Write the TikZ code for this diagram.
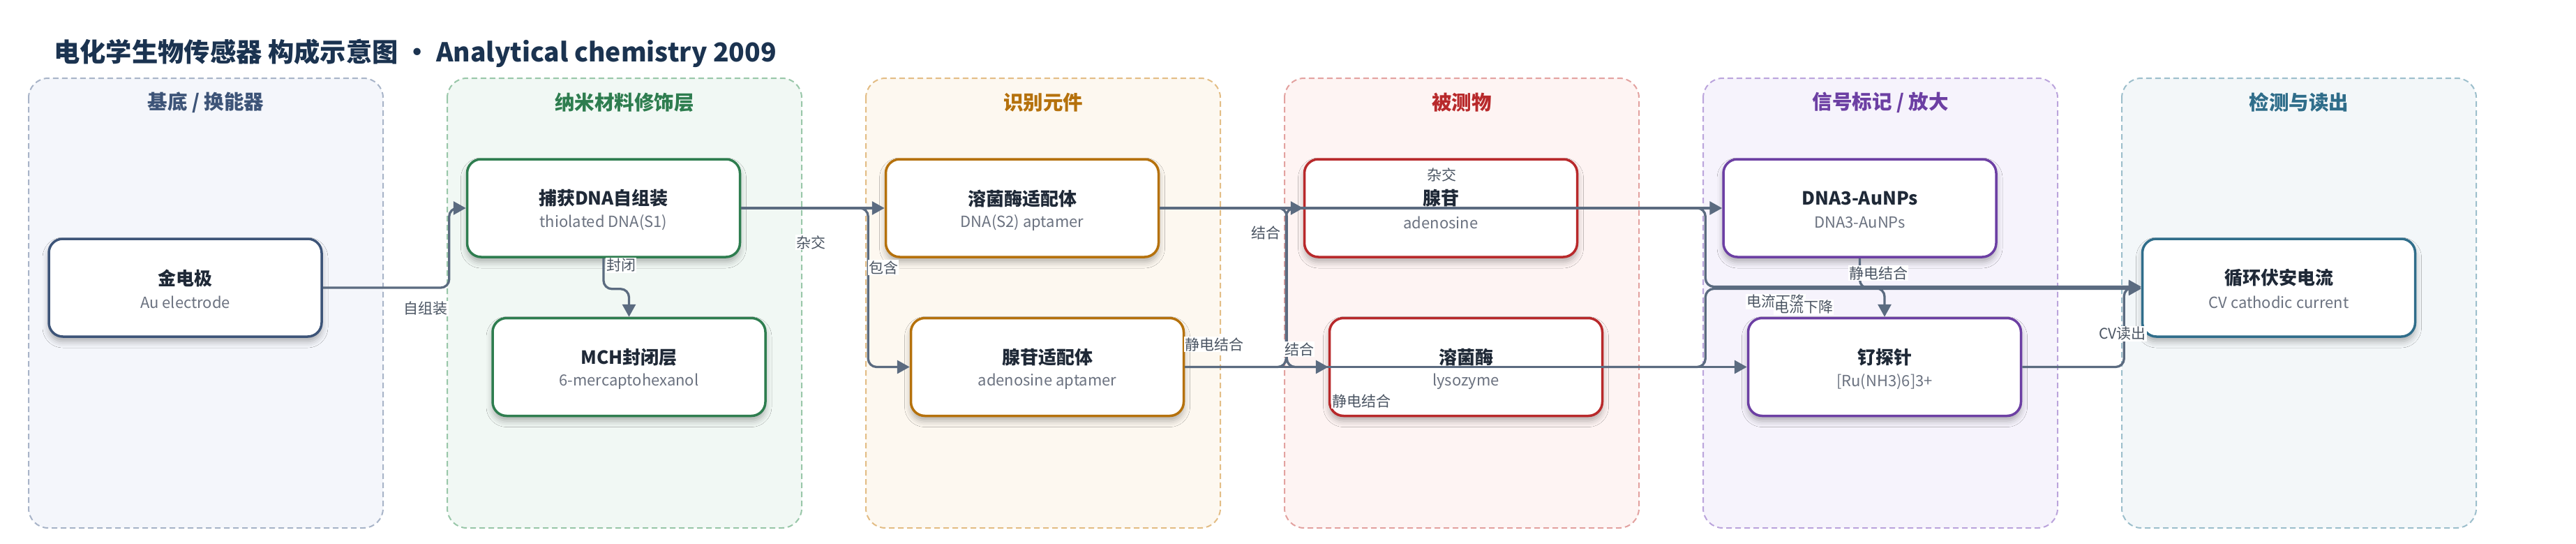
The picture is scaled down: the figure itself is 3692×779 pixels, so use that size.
\documentclass[tikz,border=0pt]{standalone}
\usepackage{fontspec}
\setmainfont{Noto Sans CJK SC}
\usepackage{tikz}
\usetikzlibrary{calc,arrows.meta,shadows.blur}
\usepackage{xcolor}
\definecolor{ttlc}{HTML}{1B3350}
\definecolor{edgec}{HTML}{5B6B80}
\definecolor{subc}{HTML}{6B7280}
\definecolor{lblc}{HTML}{4B5563}
\definecolor{darkc}{HTML}{1F2937}
% panels: fill / border / accent
\definecolor{fA}{HTML}{F4F6FB}\definecolor{bA}{HTML}{A8B4C8}\definecolor{aA}{HTML}{3D5478}
\definecolor{fB}{HTML}{F1F8F4}\definecolor{bB}{HTML}{99C7A9}\definecolor{aB}{HTML}{2E7D4F}
\definecolor{fC}{HTML}{FDF8F0}\definecolor{bC}{HTML}{E3BD85}\definecolor{aC}{HTML}{B5710C}
\definecolor{fD}{HTML}{FEF4F3}\definecolor{bD}{HTML}{E3A2A0}\definecolor{aD}{HTML}{B8292B}
\definecolor{fE}{HTML}{F6F3FC}\definecolor{bE}{HTML}{BBA4DC}\definecolor{aE}{HTML}{6C3FA3}
\definecolor{fF}{HTML}{F3F7F9}\definecolor{bF}{HTML}{9DBFCC}\definecolor{aF}{HTML}{2F6D8A}

\begin{document}
\begin{tikzpicture}[x=1pt,y=-1pt,
	panel/.style={draw=#1,dash pattern=on 8pt off 5pt,line width=2pt,rounded corners=28pt},
	ptitle/.style={font=\fontsize{28.5}{32}\selectfont\bfseries,inner sep=0pt},
	box/.style={draw=#1,fill=white,line width=3.5pt,rounded corners=20pt,
		minimum width=391pt,minimum height=140pt,
		blur shadow={shadow xshift=0pt,shadow yshift=-7pt,shadow blur radius=9pt,shadow opacity=30}},
	ntitle/.style={font=\fontsize{26}{30}\selectfont\bfseries,text=darkc,inner sep=0pt},
	nsub/.style={font=\fontsize{22}{26}\selectfont,text=subc,inner sep=0pt},
	conn/.style={draw=edgec,line width=3.3pt,rounded corners=12pt,-{Triangle[length=18pt,width=19pt]}},
	lbl/.style={fill=white,text=lblc,font=\fontsize{21}{24}\selectfont,inner sep=1pt}]
	\useasboundingbox (0,0) rectangle (3692,779);
	\node[anchor=west,inner sep=0pt,text=ttlc,font=\fontsize{37.3}{42}\selectfont\bfseries] (title) at (77,76)
	{电化学生物传感器 构成示意图 · Analytical chemistry 2009};
	
	% columns
	\foreach \i/\f/\b/\a/\t in {0/fA/bA/aA/{基底 / 换能器},1/fB/bB/aB/纳米材料修饰层,2/fC/bC/aC/识别元件,
		3/fD/bD/aD/被测物,4/fE/bE/aE/{信号标记 / 放大},5/fF/bF/aF/检测与读出}
	{
		\draw[panel=\b,fill=\f] (41+600*\i,112) rectangle ++(508,644);
		\node[ptitle,text=\a] (col\i) at (295+600*\i,147) {\t};
	}
	
	% blocks
	\foreach \n/\x/\y/\c/\t/\s in {au/265.5/412/aA/金电极/Au electrode,
		cap/865/298/aB/捕获DNA自组装/thiolated DNA(S1),
		mch/901.5/525.5/aB/MCH封闭层/6-mercaptohexanol,
		lapt/1465/298/aC/溶菌酶适配体/DNA(S2) aptamer,
		aapt/1501/525.5/aC/腺苷适配体/adenosine aptamer,
		aden/2065/298/aD/腺苷/adenosine,
		lyso/2101/525.5/aD/溶菌酶/lysozyme,
		dna/2665.5/298/aE/DNA3-AuNPs/DNA3-AuNPs,
		ru/2701/525.5/aE/钌探针/[Ru(NH3)6]3+,
		cv/3266/412/aF/循环伏安电流/CV cathodic current}
	{
		\node[box=\c] (\n) at (\x,\y) {};
		\node[ntitle] (\n-t) at (\x,\y-14) {\t};
		\node[nsub] (\n-s) at (\x,\y+21) {\s};
	}
	
	% connectors
	\draw[conn] (au.east) -- ++(181,0) |- (cap.west);
	\draw[conn] (cap.south) -- ++(0,44) -| (mch.north);
	\draw[conn] (cap.east) -- (lapt.west);
	\draw[conn] (cap.east) -- ++(182,0) |- (aapt.west);
	\draw[conn] (aapt.east) -- ++(145,0) |- (aden.west);
	\draw[conn] (lapt.east) -- ++(182,0) |- (lyso.west);
	\draw[conn] (lapt.east) -- (dna.west);
	\draw[conn] (aapt.east) -- (ru.west);
	\draw[conn] (aden.east) -- ++(182,0) |- ($(cv.west)+(0,-1.5)$);
	\draw[conn] (lyso.east) -- ++(146,0) |- ($(cv.west)+(0,1.5)$);
	\draw[conn] (dna.south) -- ++(0,43) -| (ru.north);
	\draw[conn] (ru.east) -- ++(146,0) |- (cv.west);
	
	% edge labels
	\node[lbl] (l1) at (610,442) {自组装};
	\node[lbl] (l2) at (890,380) {封闭};
	\node[lbl] (l3) at (1162,347) {杂交};
	\node[lbl] (l4) at (1266,383) {包含};
	\node[lbl] (l5) at (1814,333) {结合};
	\node[lbl] (l6) at (1862,500) {结合};
	\node[lbl] (l7) at (2066,250) {杂交};
	\node[lbl] (l8) at (1740,493) {静电结合};
	\node[lbl] (l9) at (1951,574) {静电结合};
	\node[lbl] (l10) at (2692,391) {静电结合};
	\node[lbl] (l11) at (2545,432) {电流下降};
	\node[lbl] (l12) at (2585,440) {电流下降};
	\node[lbl] (l13) at (3042,478) {CV读出};
\end{tikzpicture}
\end{document}
